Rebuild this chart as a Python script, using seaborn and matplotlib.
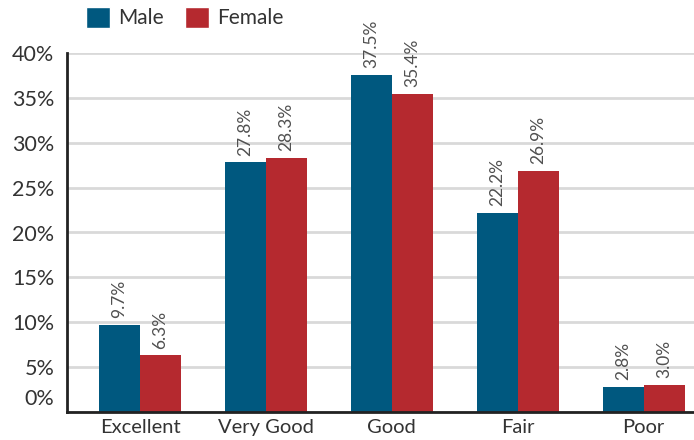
import matplotlib
matplotlib.use("Agg")
import matplotlib.pyplot as plt
import matplotlib.transforms as mtransforms
import seaborn as sns
import pandas as pd
from matplotlib.patches import Patch

categories = ["Excellent", "Very Good", "Good", "Fair", "Poor"]
series = ["Male", "Female"]
male = [9.7, 27.8, 37.5, 22.2, 2.8]
female = [6.3, 28.3, 35.4, 26.9, 3.0]
yticks = [0, 5, 10, 15, 20, 25, 30, 35, 40]
colors = ["#00587f", "#b5292f"]

df = pd.DataFrame({
    "category": categories * 2,
    "sex": [series[0]] * len(categories) + [series[1]] * len(categories),
    "value": male + female,
})

sns.set_theme(style="white")
plt.rcParams["font.family"] = ["Lato", "DejaVu Sans"]

fig = plt.figure(figsize=(6.94, 4.40), dpi=100)
ax = fig.add_axes([67 / 694, 28 / 440, 1 - 67 / 694, (412 - 53) / 440])

sns.barplot(data=df, x="category", y="value", hue="sex", order=categories,
            hue_order=series, palette=colors, width=0.65, saturation=1,
            linewidth=0, ax=ax, legend=False)

for cont, vals in zip(ax.containers, [male, female]):
    ax.bar_label(cont, labels=[f"{v:.1f}%" for v in vals], rotation=90,
                 padding=5, fontsize=12.5, color="#505050")

ax.set_ylim(0, 40)
ax.set_xlim(-0.58, 4.4)
ax.set_yticks(yticks)
ax.set_yticklabels([f"{t}%" for t in yticks])
ax.yaxis.grid(True, color="#d9d9d9", linewidth=2)
ax.set_axisbelow(True)
for s in ["top", "right"]:
    ax.spines[s].set_visible(False)
for s in ["left", "bottom"]:
    ax.spines[s].set_color("#222222")
    ax.spines[s].set_linewidth(2)
ax.tick_params(axis="both", length=0, colors="#333333")
ax.tick_params(axis="y", pad=9, labelsize=15.5)
ax.tick_params(axis="x", pad=5, labelsize=14.5)
ax.set_xlabel("")
ax.set_ylabel("")

# the "0%" label sits a little above the baseline in the reference
zero_lab = ax.get_yticklabels()[0]
zero_lab.set_transform(zero_lab.get_transform() +
                       mtransforms.ScaledTranslation(0, 15 / 100, fig.dpi_scale_trans))

handles = [Patch(facecolor=c, label=s) for c, s in zip(colors, series)]
fig.legend(handles=handles, loc="upper left", bbox_to_anchor=(86 / 694, 1 - 7 / 440),
           ncol=2, frameon=False, handlelength=1.15, handleheight=1.15,
           handletextpad=0.38, columnspacing=1.05, fontsize=15,
           borderpad=0, borderaxespad=0, labelcolor="#333333")

fig.savefig("out.png", dpi=100)
